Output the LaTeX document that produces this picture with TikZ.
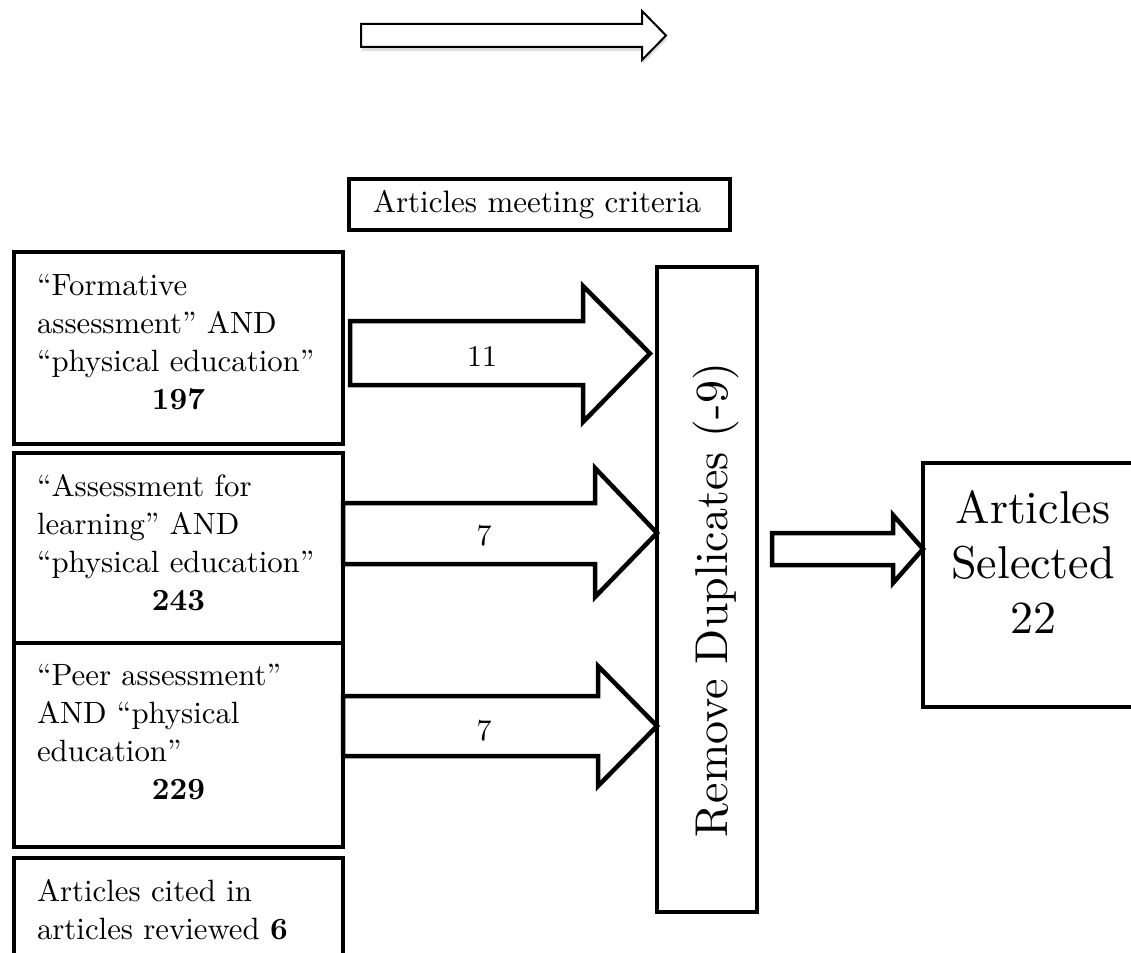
\documentclass[tikz,border=0pt]{standalone}
\usepackage{fontspec}
\setmainfont{lmroman10-regular.otf}[BoldFont=lmroman10-bold.otf]
\usetikzlibrary{shadows}
\begin{document}
\begin{tikzpicture}[x=1pt,y=-1pt,
  box/.style={draw=black, line width=4.5pt, fill=white, rectangle, inner sep=0pt, outer sep=0pt},
  fat/.style={draw=black, line width=4.5pt, fill=white, line join=miter},
  thinarrow/.style={draw=black, line width=2pt, fill=white, line join=miter,
     drop shadow={opacity=0.25, shadow xshift=1pt, shadow yshift=-4pt}},
  txt/.style={inner sep=0pt, outer sep=0pt, font=\fontsize{30.8}{38}\selectfont},
  lbl/.style={inner sep=0pt, anchor=base, font=\fontsize{30}{36}\selectfont},
  big/.style={inner sep=0pt, font=\fontsize{46}{55}\selectfont},
]
\useasboundingbox (0,0) rectangle (1131,952);
\clip (0,0) rectangle (1131,952);
\fill[white] (0,0) rectangle (1131,952);

% top (legend) arrow
\draw[thinarrow] (361,24) -- (642,24) -- (642,11) -- (666,35.5) -- (642,60) -- (642,47) -- (361,47) -- cycle;

% header box
\node[box, minimum width=381pt, minimum height=51pt] (crit) at (539.5,204.5) {};
\node[inner sep=0pt, anchor=base, font=\fontsize{31}{36}\selectfont] (critt) at (537,212) {Articles meeting criteria};

% search boxes
\node[box, minimum width=329pt, minimum height=192pt] (b1) at (178.5,348) {};
\node[box, minimum width=329pt, minimum height=190pt] (b2) at (178.5,548) {};
\node[box, minimum width=329pt, minimum height=204pt] (b3) at (178.5,745) {};
\node[box, minimum width=329pt, minimum height=142pt] (b4) at (178.5,929) {};

\node[txt, text width=283pt, anchor=north west] (t1) at (37,274)
  {\parindent=0pt\raggedright “Formative\\assessment” AND\\“physical education”\par\centering\textbf{197}\par};
\node[txt, text width=283pt, anchor=north west] (t2) at (37,474)
  {\parindent=0pt\raggedright “Assessment for\\learning” AND\\“physical education”\par\centering\textbf{243}\par};
\node[txt, text width=283pt, anchor=north west] (t3) at (37,664)
  {\parindent=0pt\raggedright “Peer assessment”\\AND “physical\\education”\par\centering\textbf{229}\par};
\node[txt, text width=283pt, anchor=north west] (t4) at (37,879)
  {\parindent=0pt\raggedright Articles cited in\\articles reviewed \textbf{6}\par};

% remove duplicates box
\node[box, minimum width=100pt, minimum height=645pt] (rd) at (707,589.5) {};
\node[big, rotate=90, anchor=base] (rdt) at (727,600) {Remove Duplicates (-9)};

% selected box
\node[box, minimum width=222pt, minimum height=244pt] (sel) at (1034,585) {};
\node[big, align=center, anchor=north] (selt) at (1033,490) {Articles\\Selected\\22};

% fat arrows
\draw[fat] (350,321) -- (583,321) -- (583,286) -- (650,353.5) -- (583,422) -- (583,385) -- (350,385) -- cycle;
\draw[fat] (343,503) -- (595,503) -- (595,468) -- (rd.west |- 0,533) -- (595,597) -- (595,564) -- (343,564) -- cycle;
\draw[fat] (343,696) -- (598,696) -- (598,666) -- (rd.west |- 0,726) -- (598,786) -- (598,756) -- (343,756) -- cycle;
\node[lbl] (l1) at (482,366) {11};
\node[lbl] (l2) at (484,545) {7};
\node[lbl] (l3) at (484,740) {7};

% arrow to selected
\draw[fat] (772,533) -- (893,533) -- (893,515) -- (sel.west |- 0,549) -- (893,583) -- (893,565) -- (772,565) -- cycle;
\end{tikzpicture}
\end{document}
